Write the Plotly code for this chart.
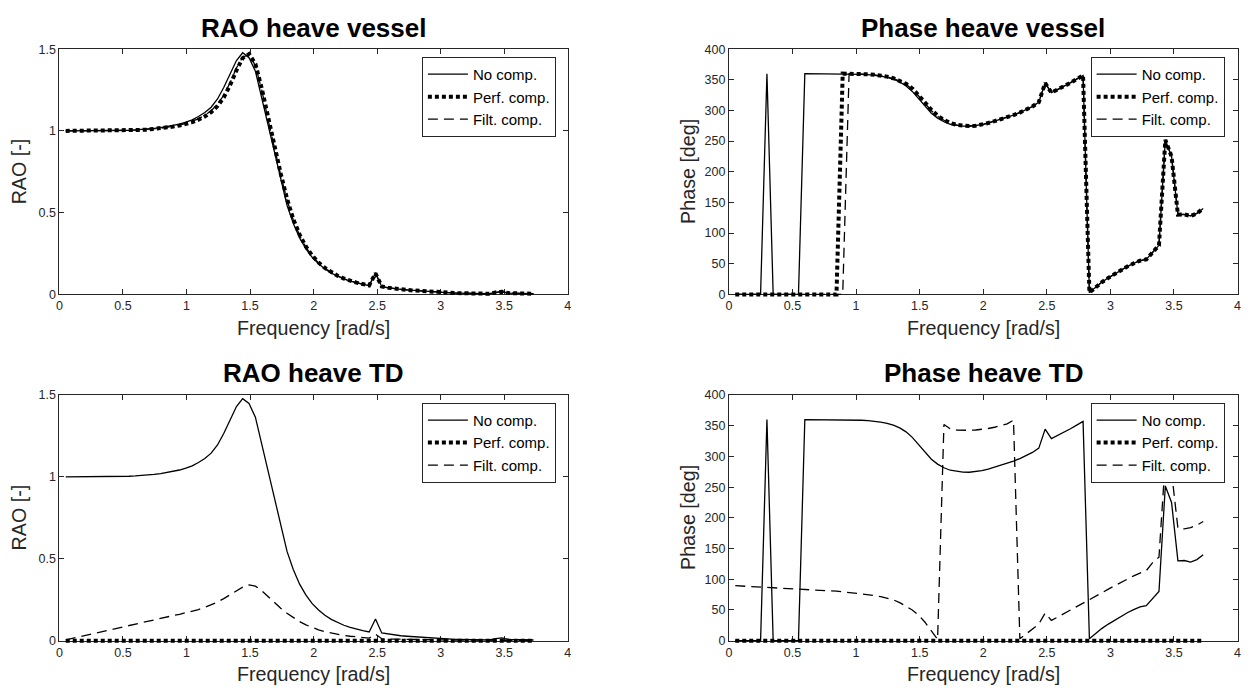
import plotly.graph_objects as go

# ---------------- data ----------------
freq = [0.050, 0.100, 0.149, 0.199, 0.249, 0.299, 0.348, 0.398, 0.448, 0.498,
        0.547, 0.597, 0.647, 0.696, 0.746, 0.796, 0.846, 0.895, 0.945, 0.995,
        1.045, 1.094, 1.144, 1.194, 1.244, 1.293, 1.343, 1.393, 1.442, 1.492,
        1.542, 1.592, 1.641, 1.691, 1.741, 1.791, 1.840, 1.890, 1.940, 1.989,
        2.039, 2.089, 2.139, 2.188, 2.238, 2.288, 2.338, 2.387, 2.437, 2.487,
        2.536, 2.586, 2.636, 2.686, 2.735, 2.785, 2.835, 2.885, 2.934, 2.984,
        3.034, 3.084, 3.133, 3.183, 3.233, 3.282, 3.332, 3.382, 3.432, 3.481,
        3.531, 3.581, 3.631, 3.680, 3.730]

rao_vessel_nc = [1.000, 1.000, 1.000, 1.000, 1.000, 1.001, 1.001, 1.002, 1.002, 1.003,
                 1.004, 1.006, 1.008, 1.011, 1.015, 1.020, 1.026, 1.033, 1.042, 1.053,
                 1.067, 1.088, 1.112, 1.145, 1.195, 1.265, 1.350, 1.430, 1.478, 1.448,
                 1.365, 1.200, 1.020, 0.855, 0.695, 0.545, 0.435, 0.345, 0.278, 0.226,
                 0.187, 0.155, 0.130, 0.110, 0.094, 0.081, 0.070, 0.061, 0.053, 0.132,
                 0.047, 0.040, 0.034, 0.030, 0.027, 0.024, 0.021, 0.018, 0.015, 0.013,
                 0.011, 0.009, 0.008, 0.007, 0.006, 0.005, 0.004, 0.004, 0.012, 0.017,
                 0.008, 0.006, 0.005, 0.004, 0.004]
rao_vessel_pc = [1.000, 1.000, 1.000, 1.000, 1.000, 1.000, 1.001, 1.001, 1.002, 1.002,
                 1.003, 1.004, 1.006, 1.008, 1.011, 1.015, 1.020, 1.026, 1.033, 1.042,
                 1.053, 1.068, 1.088, 1.115, 1.152, 1.205, 1.280, 1.370, 1.445, 1.470,
                 1.410, 1.260, 1.080, 0.905, 0.740, 0.585, 0.460, 0.365, 0.292, 0.237,
                 0.195, 0.162, 0.135, 0.114, 0.097, 0.083, 0.072, 0.063, 0.055, 0.128,
                 0.048, 0.041, 0.035, 0.031, 0.027, 0.024, 0.021, 0.018, 0.015, 0.013,
                 0.011, 0.009, 0.008, 0.007, 0.006, 0.005, 0.004, 0.004, 0.012, 0.016,
                 0.008, 0.006, 0.005, 0.004, 0.004]
rao_vessel_fc = [1.000, 1.000, 1.000, 1.000, 1.000, 1.001, 1.001, 1.001, 1.002, 1.002,
                 1.003, 1.005, 1.007, 1.009, 1.012, 1.016, 1.022, 1.028, 1.036, 1.046,
                 1.058, 1.074, 1.095, 1.123, 1.162, 1.218, 1.295, 1.385, 1.452, 1.465,
                 1.400, 1.250, 1.070, 0.895, 0.730, 0.578, 0.455, 0.360, 0.288, 0.234,
                 0.193, 0.160, 0.134, 0.113, 0.096, 0.082, 0.071, 0.062, 0.054, 0.129,
                 0.047, 0.041, 0.035, 0.031, 0.027, 0.024, 0.021, 0.018, 0.015, 0.013,
                 0.011, 0.009, 0.008, 0.007, 0.006, 0.005, 0.004, 0.004, 0.012, 0.016,
                 0.008, 0.006, 0.005, 0.004, 0.004]

rao_td_nc = list(rao_vessel_nc)
rao_td_pc = [0.0] * len(freq)
rao_td_fc = [0.005, 0.014, 0.023, 0.032, 0.041, 0.050, 0.059, 0.068, 0.077, 0.086,
             0.095, 0.104, 0.113, 0.121, 0.129, 0.137, 0.145, 0.153, 0.161, 0.170,
             0.179, 0.190, 0.203, 0.218, 0.236, 0.257, 0.280, 0.305, 0.327, 0.340,
             0.333, 0.305, 0.268, 0.232, 0.198, 0.167, 0.140, 0.116, 0.096, 0.079,
             0.066, 0.055, 0.046, 0.038, 0.032, 0.027, 0.023, 0.019, 0.016, 0.040,
             0.012, 0.010, 0.009, 0.008, 0.007, 0.006, 0.005, 0.005, 0.004, 0.004,
             0.004, 0.003, 0.003, 0.003, 0.003, 0.002, 0.002, 0.002, 0.004, 0.004,
             0.002, 0.002, 0.002, 0.002, 0.002]

ph_vessel_nc = [0, 0, 0, 0, 0, 360, 0, 0, 0, 0,
                0, 360, 360, 360, 360, 360, 359.9, 359.8, 359.6, 359.3,
                358.9, 358.3, 357.4, 356.0, 354.0, 351.0, 346.5, 340.0, 331.0, 319.0,
                306.5, 295.5, 287.5, 281.5, 277.5, 275.3, 274.3, 274.2, 275.0, 276.8,
                279.5, 282.5, 285.5, 289.0, 292.5, 296.5, 301.0, 306.5, 313.5, 344.5,
                329.0, 334.0, 339.5, 345.0, 351.0, 357.0, 3.0, 12.0, 20.0, 27.0,
                33.5, 40.0, 45.5, 50.5, 55.0, 57.0, 68.0, 80.0, 252.0, 225.0,
                130.0, 130.5, 128.0, 132.0, 140.0]
ph_vessel_pc = [0, 0, 0, 0, 0, 0, 0, 0, 0, 0,
                0, 0, 0, 0, 0, 0, 0, 360, 360, 359.8,
                359.5, 359.0, 358.2, 357.0, 355.2, 352.6, 348.8, 343.5, 336.0, 325.5,
                313.0, 301.0, 291.5, 284.5, 279.5, 276.5, 275.0, 274.5, 275.0, 276.5,
                279.5, 282.5, 285.5, 289.0, 292.5, 296.5, 301.0, 306.5, 313.5, 344.5,
                329.0, 334.0, 339.5, 345.0, 351.0, 357.0, 3.0, 12.0, 20.0, 27.0,
                33.5, 40.0, 45.5, 50.5, 55.0, 57.0, 68.0, 80.0, 252.0, 225.0,
                130.0, 130.5, 128.0, 132.0, 140.0]
ph_vessel_fc = [0, 0, 0, 0, 0, 0, 0, 0, 0, 0,
                0, 0, 0, 0, 0, 0, 0, 0, 360, 359.8,
                359.4, 358.8, 357.9, 356.6, 354.7, 352.0, 348.0, 342.5, 334.5, 323.5,
                311.0, 299.5, 290.5, 284.0, 279.0, 276.2, 274.8, 274.4, 275.0, 276.6,
                279.5, 282.5, 285.5, 289.0, 292.5, 296.5, 301.0, 306.5, 313.5, 344.5,
                329.0, 334.0, 339.5, 345.0, 351.0, 357.0, 3.0, 12.0, 20.0, 27.0,
                33.5, 40.0, 45.5, 50.5, 55.0, 57.0, 68.0, 80.0, 252.0, 225.0,
                130.0, 130.5, 128.0, 132.0, 140.0]

ph_td_nc = list(ph_vessel_nc)
ph_td_pc = [0.0] * len(freq)
ph_td_fc = [89.5, 89.0, 88.5, 88.0, 87.5, 87.0, 86.5, 86.0, 85.5, 85.0,
            84.5, 84.0, 83.4, 82.8, 82.1, 81.3, 80.5, 79.6, 78.6, 77.5,
            76.3, 75.0, 73.5, 71.7, 69.5, 66.5, 62.0, 56.5, 50.0, 41.5,
            30.0, 16.0, 2.0, 352.0, 345.0, 343.0, 342.5, 342.5, 343.0, 344.0,
            345.5, 347.5, 350.0, 353.0, 359.0, 3.0, 11.0, 19.0, 27.0, 45.0,
            33.0, 38.5, 44.0, 49.5, 55.0, 61.0, 67.0, 72.5, 78.0, 84.0,
            89.5, 95.0, 100.5, 105.5, 110.0, 114.0, 127.0, 136.0, 295.0, 275.0,
            183.0, 182.0, 184.0, 188.0, 194.0]

series_names = ["No comp.", "Perf. comp.", "Filt. comp."]
titles = ["RAO heave vessel", "Phase heave vessel", "RAO heave TD", "Phase heave TD"]
y_titles = ["RAO [-]", "Phase [deg]", "RAO [-]", "Phase [deg]"]
x_title = "Frequency [rad/s]"
x_range = [0, 4]
y_ranges = [[0, 1.5], [0, 400], [0, 1.5], [0, 400]]
y_dticks = [0.5, 50, 0.5, 50]
panel_series = [
    [rao_vessel_nc, rao_vessel_pc, rao_vessel_fc],
    [ph_vessel_nc, ph_vessel_pc, ph_vessel_fc],
    [rao_td_nc, rao_td_pc, rao_td_fc],
    [ph_td_nc, ph_td_pc, ph_td_fc],
]

# ---------------- layout / styling ----------------
W, H = 1251, 694
FONT = "Liberation Sans, Arial, Helvetica, sans-serif"
AX = "#262626"
PAD = 6  # px of extra room for the (unclipped) data layer

# pixel boxes of the four axes: left, right, top, bottom
boxes = [
    (56.7, 568.0, 43.0, 293.3),
    (730.0, 1241.5, 43.0, 293.3),
    (56.7, 568.0, 396.0, 646.7),
    (730.0, 1241.5, 396.0, 646.7),
]
legend_pos = [(556.0, 51.0), (1228.5, 51.0), (556.0, 404.0), (1228.5, 404.0)]

styles = [
    dict(color="black", width=1.3),
    dict(color="black", width=4, dash="4px,3px"),
    dict(color="black", width=1.3, dash="10px,6px"),
]


def sfx(n):
    return "" if n == 1 else str(n)


fig = go.Figure()
layout = dict(
    width=W, height=H,
    margin=dict(l=0, r=0, t=0, b=0, pad=0),
    paper_bgcolor="white", plot_bgcolor="rgba(0,0,0,0)",
    font=dict(family=FONT, color=AX),
    showlegend=True,
    annotations=[],
)

for i in range(4):
    l, r, t, b = boxes[i]
    fa = i + 1        # frame axes (ticks, box)
    da = i + 5        # data axes (same scale, slightly larger clip area)
    y0, y1 = y_ranges[i]
    x0, x1 = x_range

    layout["xaxis" + sfx(fa)] = dict(
        domain=[l / W, r / W], range=[x0, x1], anchor="y" + sfx(fa),
        dtick=0.5, tick0=0, ticks="inside", ticklen=5, tickcolor=AX, tickwidth=1,
        showline=True, linecolor=AX, linewidth=1, mirror="ticks",
        showgrid=False, zeroline=False, fixedrange=True,
        tickfont=dict(family=FONT, size=12.5, color=AX),
    )
    layout["yaxis" + sfx(fa)] = dict(
        domain=[1 - b / H, 1 - t / H], range=[y0, y1], anchor="x" + sfx(fa),
        dtick=y_dticks[i], tick0=0, ticks="inside", ticklen=5, tickcolor=AX, tickwidth=1,
        showline=True, linecolor=AX, linewidth=1, mirror="ticks",
        showgrid=False, zeroline=False, fixedrange=True,
        tickfont=dict(family=FONT, size=12.5, color=AX),
    )
    # data layer: same data-to-pixel mapping, but extended area so thick lines at the frame are not cut
    xs = (x1 - x0) / (r - l)
    ys = (y1 - y0) / (b - t)
    layout["xaxis" + sfx(da)] = dict(
        domain=[(l - PAD) / W, (r + PAD) / W], range=[x0 - PAD * xs, x1 + PAD * xs],
        anchor="y" + sfx(da), visible=False, fixedrange=True,
    )
    layout["yaxis" + sfx(da)] = dict(
        domain=[1 - (b + PAD) / H, 1 - (t - PAD) / H], range=[y0 - PAD * ys, y1 + PAD * ys],
        anchor="x" + sfx(da), visible=False, fixedrange=True,
    )

    # empty trace so the frame axes get drawn
    fig.add_trace(go.Scatter(x=[], y=[], mode="lines", showlegend=False, hoverinfo="skip",
                             xaxis="x" + sfx(fa), yaxis="y" + sfx(fa)))

    lg = "legend" + sfx(fa)
    lx, ly = legend_pos[i]
    layout[lg] = dict(
        x=lx / W, y=1 - ly / H, xanchor="right", yanchor="top",
        xref="paper", yref="paper",
        bgcolor="white", bordercolor=AX, borderwidth=1,
        font=dict(family=FONT, size=15, color="black"),
        itemwidth=40, tracegroupgap=0,
    )

    for k in range(3):
        fig.add_trace(go.Scatter(
            x=freq, y=panel_series[i][k], mode="lines", name=series_names[k],
            line=styles[k], xaxis="x" + sfx(da), yaxis="y" + sfx(da),
            legend=lg, hoverinfo="skip",
        ))

    cx = (l + r) / 2
    # subplot title
    layout["annotations"].append(dict(
        text="<b>" + titles[i] + "</b>", x=cx / W, y=1 - (t - 22) / H,
        xref="paper", yref="paper", xanchor="center", yanchor="middle",
        showarrow=False, font=dict(family=FONT, size=26, color="black"),
    ))
    # x axis title
    layout["annotations"].append(dict(
        text=x_title, x=cx / W, y=1 - (b + 34) / H,
        xref="paper", yref="paper", xanchor="center", yanchor="middle",
        showarrow=False, font=dict(family=FONT, size=19.7, color=AX),
    ))
    # y axis title
    layout["annotations"].append(dict(
        text=y_titles[i], x=(l - 41) / W, y=1 - ((t + b) / 2) / H,
        xref="paper", yref="paper", xanchor="center", yanchor="middle",
        textangle=-90, showarrow=False, font=dict(family=FONT, size=19.7, color=AX),
    ))

fig.update_layout(**layout)
fig.write_html("out.html")
